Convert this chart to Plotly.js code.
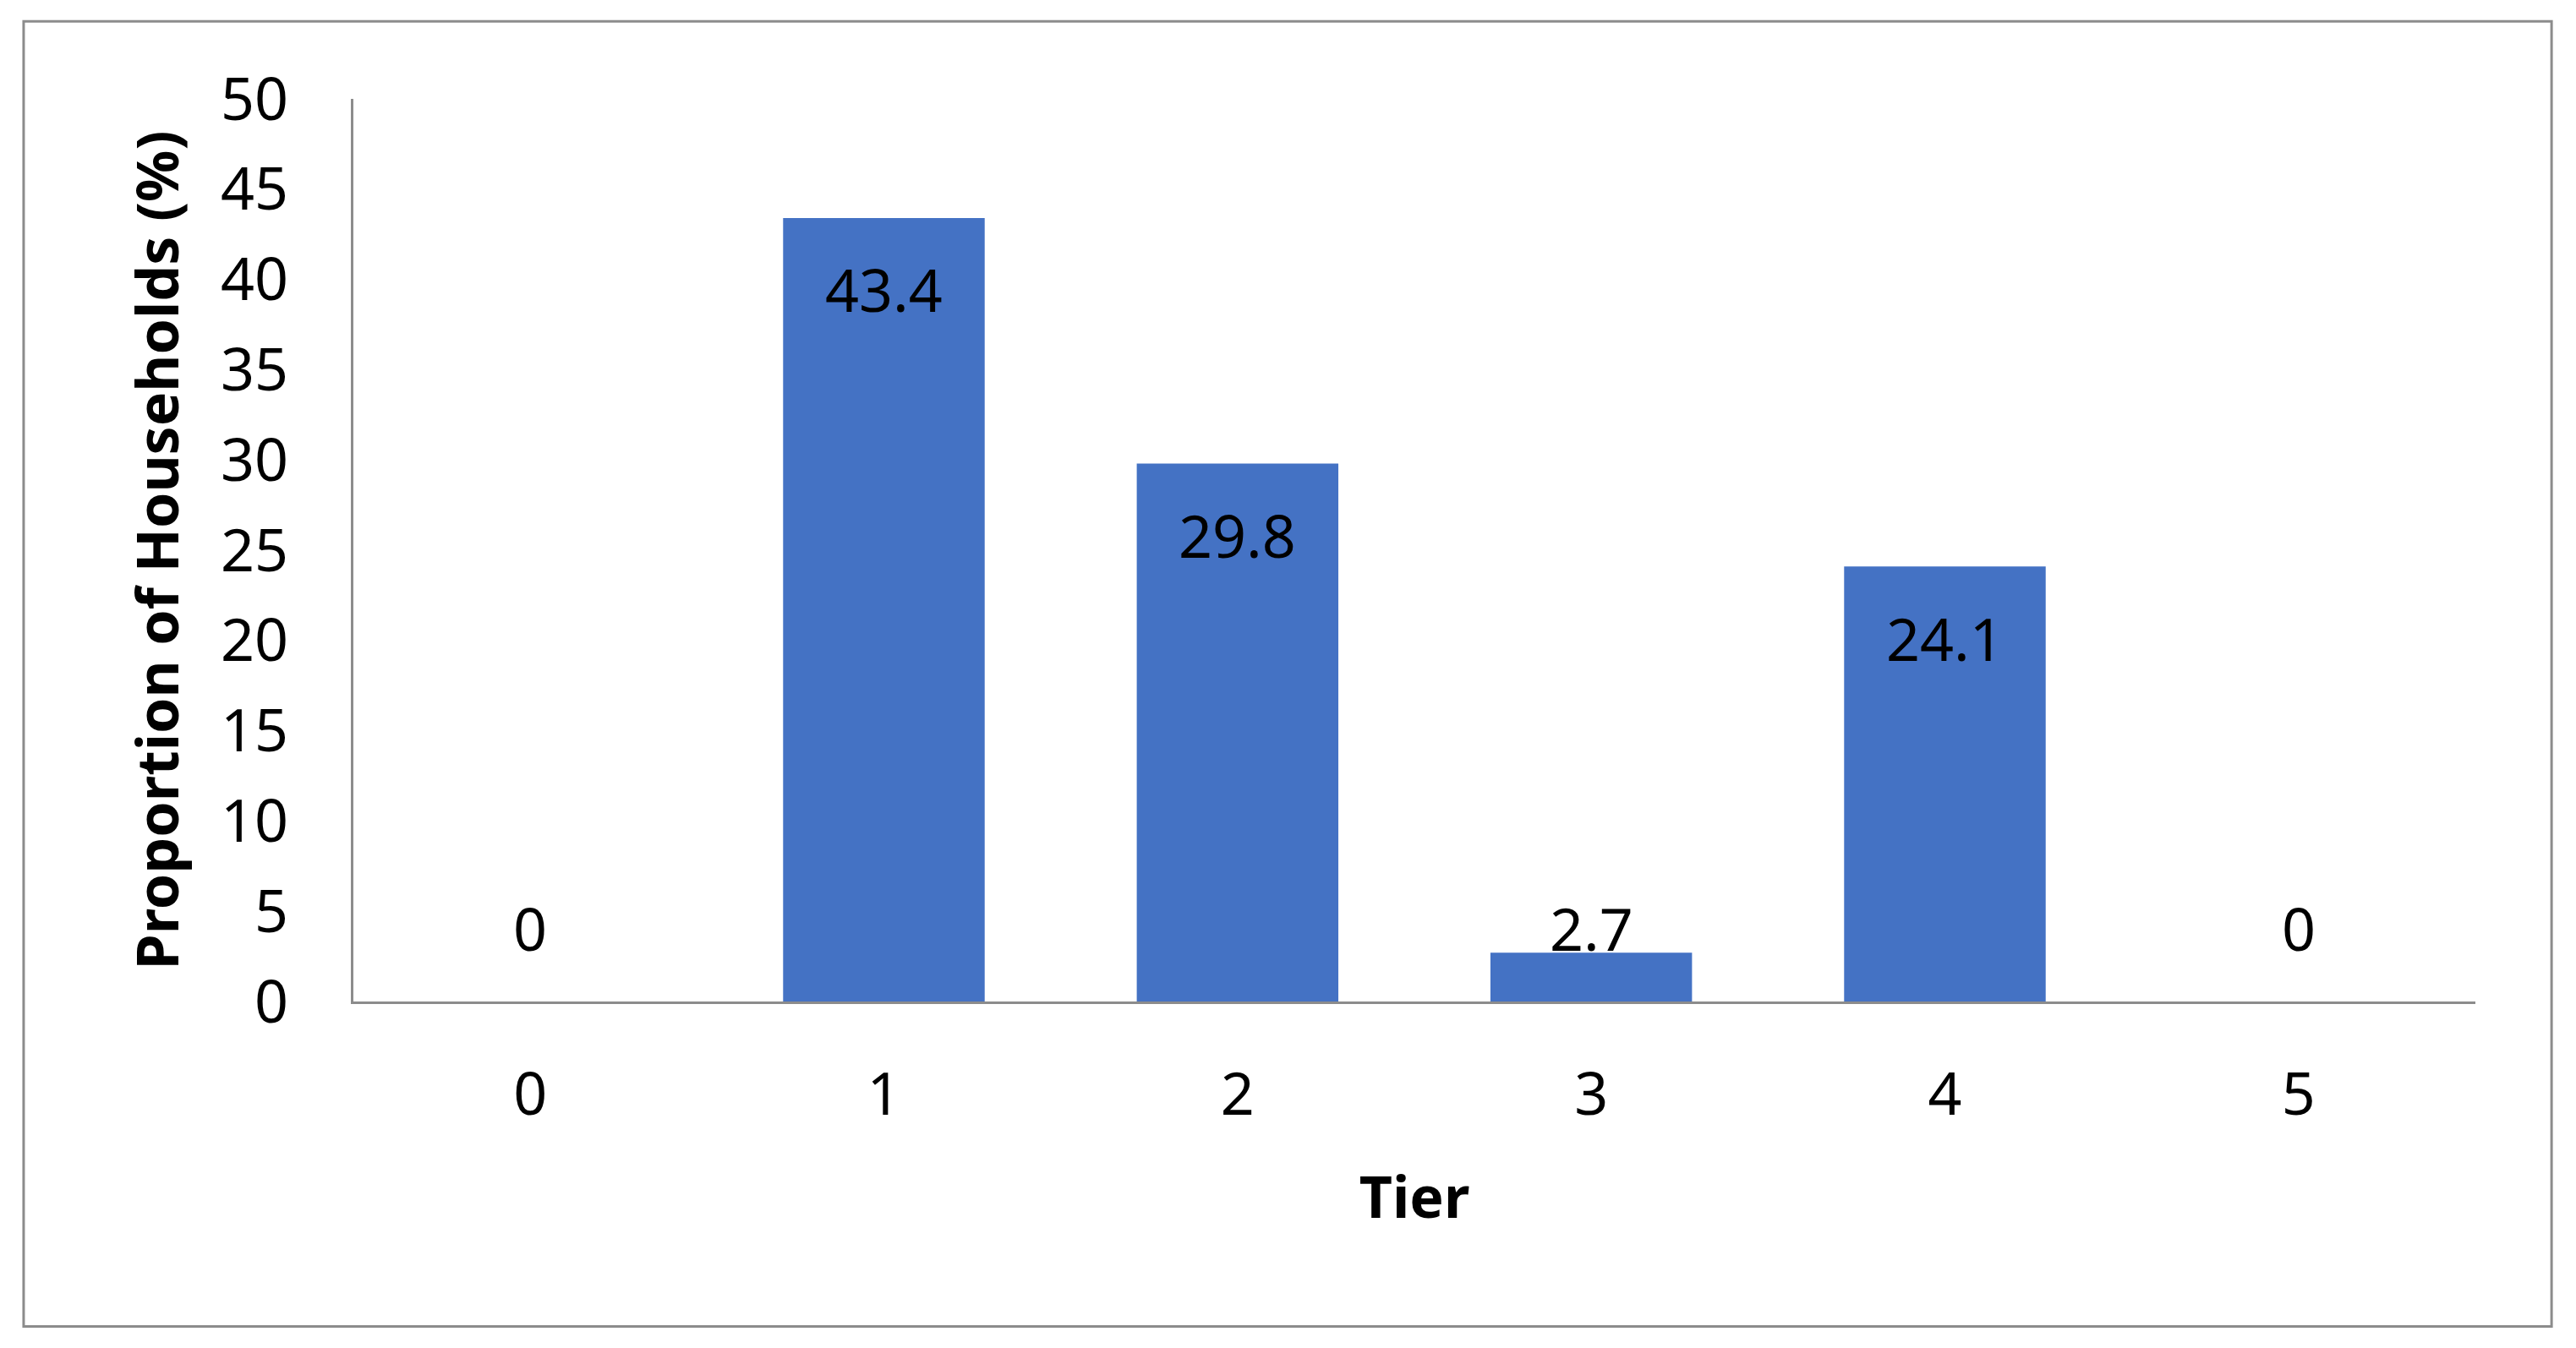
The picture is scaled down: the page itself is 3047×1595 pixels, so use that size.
<!DOCTYPE html>
<html>
<head>
<meta charset="utf-8">
<script src="https://cdn.plot.ly/plotly-3.0.1.min.js"></script>
<style>
html,body{margin:0;padding:0;background:#fff;}
#chart{width:3047px;height:1595px;}
</style>
</head>
<body>
<div id="chart"></div>
<script>
// Data
const tiers = ["0", "1", "2", "3", "4", "5"];
const proportions = [0, 43.4, 29.8, 2.7, 24.1, 0];
const yTickValues = [0, 5, 10, 15, 20, 25, 30, 35, 40, 45, 50];

const FONT = "Noto Sans, Open Sans, sans-serif";
const BAR_COLOR = "#4472C4";
const AXIS_COLOR = "#8c8c8c";

const trace = {
  type: "bar",
  x: tiers,
  y: proportions,
  marker: { color: BAR_COLOR, line: { width: 0 } },
  hoverinfo: "x+y",
  showlegend: false
};

// Data labels: inside end, but never lower than a minimum height above the axis
const annotations = tiers.map((t, i) => ({
  x: t,
  y: Math.max(proportions[i] - 3.95, 4.05),
  xref: "x",
  yref: "y",
  text: String(proportions[i]),
  showarrow: false,
  xanchor: "center",
  yanchor: "middle",
  font: { family: FONT, size: 70, color: "#000" }
}));

const layout = {
  width: 3047,
  height: 1595,
  margin: { l: 418, r: 119, t: 117, b: 410 },
  paper_bgcolor: "#fff",
  plot_bgcolor: "#fff",
  bargap: 0.43,
  font: { family: FONT, size: 70, color: "#000" },
  xaxis: {
    type: "category",
    range: [-0.5, 5.5],
    showline: true,
    linecolor: AXIS_COLOR,
    linewidth: 3,
    showgrid: false,
    zeroline: false,
    ticks: "outside",
    ticklen: 47,
    tickcolor: "rgba(0,0,0,0)",
    tickfont: { family: FONT, size: 70, color: "#000" },
    title: { text: "<b>Tier</b>", font: { family: FONT, size: 68, color: "#000" }, standoff: 55 }
  },
  yaxis: {
    range: [0, 50],
    tickvals: yTickValues,
    showline: true,
    linecolor: AXIS_COLOR,
    linewidth: 3,
    showgrid: false,
    zeroline: false,
    ticks: "outside",
    ticklen: 60,
    tickcolor: "rgba(0,0,0,0)",
    tickfont: { family: FONT, size: 70, color: "#000" },
    title: { text: "<b>Proportion of Households (%)</b>", font: { family: FONT, size: 68, color: "#000" }, standoff: 28 }
  },
  annotations: annotations,
  shapes: [{
    type: "rect",
    xref: "paper",
    yref: "paper",
    x0: -0.1554,
    x1: 1.0359,
    y0: -0.36,
    y1: 1.086,
    line: { color: AXIS_COLOR, width: 3 },
    fillcolor: "rgba(0,0,0,0)",
    layer: "below"
  }]
};

Plotly.newPlot("chart", [trace], layout, { displayModeBar: false, staticPlot: true });
</script>
</body>
</html>
